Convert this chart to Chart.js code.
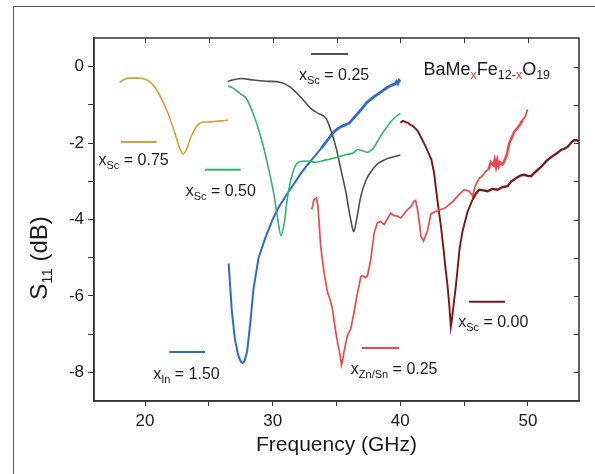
<!DOCTYPE html>
<html>
<head>
<meta charset="utf-8">
<script src="https://cdn.jsdelivr.net/npm/chart.js@4.4.1/dist/chart.umd.min.js"></script>
<style>
  html, body { margin: 0; padding: 0; background: #fff; }
  #wrap { position: relative; width: 595px; height: 474px; overflow: hidden; }
  #frame { position: absolute; left: 13px; top: 6px; width: 600px; height: 500px;
           border-left: 1px solid #555; border-top: 1px solid #555; }
  canvas { position: absolute; left: 0; top: 0; }
</style>
</head>
<body>
<div id="wrap">
  <div id="frame"></div>
  <canvas id="s11Chart" width="595" height="474"></canvas>
</div>
<script>
// x_Sc = 0.75
const sc075Freq = [18.0, 18.4, 18.8, 19.3, 19.8, 20.3, 20.8, 21.3, 21.8, 22.3, 22.7, 23.0, 23.3, 23.6, 24.1, 24.6, 25.0, 25.5, 26.0, 26.5];
const sc075S11  = [-0.41, -0.33, -0.30, -0.30, -0.31, -0.38, -0.55, -0.85, -1.22, -1.70, -2.12, -2.29, -2.12, -1.84, -1.54, -1.45, -1.45, -1.43, -1.42, -1.40];

// x_Sc = 0.50
const sc050Freq = [26.5, 27.0, 27.5, 27.9, 28.5, 29.2, 29.7, 30.1, 30.4, 30.65, 30.9, 31.15, 31.55, 32.0, 32.7, 33.4, 34.2, 35.1, 35.8, 36.3, 36.65, 37.0, 37.4, 37.9, 38.4, 38.9, 39.5, 40.0];
const sc050S11  = [-0.50, -0.58, -0.72, -0.82, -1.25, -2.00, -2.70, -3.35, -4.00, -4.42, -4.10, -3.45, -2.80, -2.50, -2.47, -2.50, -2.44, -2.37, -2.30, -2.26, -2.17, -2.20, -2.24, -2.13, -1.85, -1.60, -1.35, -1.22];

// x_Sc = 0.25
const sc025Freq = [26.5, 27.5, 28.5, 29.5, 30.6, 31.4, 32.2, 33.0, 33.6, 34.2, 34.55, 34.95, 35.35, 35.75, 36.0, 36.2, 36.35, 36.55, 36.9, 37.3, 37.7, 38.2, 38.9, 39.5, 40.0];
const sc025S11  = [-0.38, -0.31, -0.35, -0.38, -0.41, -0.54, -0.80, -1.10, -1.23, -1.36, -1.66, -2.10, -2.70, -3.31, -3.80, -4.15, -4.32, -4.05, -3.40, -2.98, -2.75, -2.55, -2.42, -2.36, -2.31];

// x_In = 1.50
const in150Freq = [26.55, 26.8, 27.05, 27.3, 27.5, 27.65, 27.8, 28.0, 28.25, 28.5, 28.9, 29.4, 30.0, 30.4, 31.15, 31.7, 32.2, 32.7, 33.25, 33.8, 34.3, 34.7, 35.1, 35.5, 36.0, 36.6, 37.0, 37.4, 37.9, 38.5, 38.9, 39.3, 39.6, 39.7, 39.8, 39.9, 40.0];
const in150S11  = [-5.15, -6.40, -7.15, -7.55, -7.72, -7.76, -7.70, -7.45, -6.70, -5.80, -5.00, -4.50, -4.00, -3.72, -3.32, -3.05, -2.80, -2.58, -2.36, -2.14, -1.92, -1.74, -1.62, -1.55, -1.48, -1.25, -1.10, -0.93, -0.80, -0.66, -0.56, -0.49, -0.45, -0.39, -0.44, -0.36, -0.40];

// x_Zn/Sn = 0.25
const znsnFreq = [33.06, 33.24, 33.43, 33.55, 33.76, 34.02, 34.29, 34.5, 34.68, 34.94, 35.12, 35.28, 35.39, 35.5, 35.59, 35.86, 36.12, 36.38, 36.6, 36.77, 36.9, 37.04, 37.25, 37.43, 37.69, 37.95, 38.2, 38.45, 38.73, 39.0, 39.25, 39.5, 39.78, 40.04, 40.3, 40.56, 40.8, 41.08, 41.2, 41.35, 41.5, 41.61, 41.82, 42.13, 42.39, 42.7, 43.18, 43.5, 43.83, 44.2, 44.49, 45.0, 45.4, 45.66, 45.9, 46.18, 46.45, 46.7, 46.9, 47.1, 47.3, 47.4, 47.5, 47.6, 47.7, 47.8, 48.0, 48.14, 48.35, 48.53, 48.75, 48.93, 49.2, 49.4, 49.58, 49.8, 49.97];
const znsnS11  = [-3.74, -3.48, -3.44, -3.65, -4.69, -5.38, -5.90, -6.10, -6.34, -6.94, -7.29, -7.55, -7.80, -7.65, -7.46, -7.03, -6.86, -6.42, -6.00, -5.73, -5.50, -5.47, -5.52, -5.47, -5.04, -4.35, -4.09, -4.05, -4.13, -3.98, -3.83, -3.90, -3.91, -3.96, -3.85, -3.74, -3.68, -3.52, -3.50, -3.74, -4.10, -4.43, -4.56, -4.30, -3.86, -3.80, -3.74, -3.70, -3.61, -3.50, -3.39, -3.22, -3.26, -3.38, -3.10, -2.92, -2.85, -2.74, -2.70, -2.50, -2.58, -2.44, -2.62, -2.45, -2.60, -2.50, -2.56, -2.48, -2.30, -2.01, -1.85, -1.70, -1.60, -1.50, -1.40, -1.30, -1.12];

// x_Sc = 0.00
const sc000Freq = [40.0, 40.2, 40.43, 40.6, 40.82, 41.0, 41.2, 41.4, 41.61, 42.0, 42.44, 42.65, 42.9, 43.18, 43.39, 43.55, 43.7, 43.85, 43.96, 44.05, 44.2, 44.35, 44.5, 44.65, 44.88, 45.27, 45.66, 45.9, 46.18, 46.5, 46.84, 47.2, 47.62, 48.0, 48.4, 48.7, 49.06, 49.4, 49.71, 50.0, 50.24, 50.5, 50.76, 51.1, 51.41, 51.7, 52.06, 52.3, 52.59, 52.85, 53.11, 53.4, 53.64, 53.85, 54.0];
const sc000S11  = [-1.47, -1.42, -1.45, -1.47, -1.53, -1.56, -1.62, -1.70, -1.84, -2.10, -2.44, -2.79, -3.48, -4.17, -4.78, -5.30, -5.73, -6.30, -6.81, -6.60, -6.16, -5.75, -5.25, -4.75, -4.30, -3.80, -3.48, -3.33, -3.22, -3.24, -3.26, -3.20, -3.22, -3.15, -3.13, -3.00, -2.92, -2.85, -2.83, -2.86, -2.87, -2.78, -2.70, -2.60, -2.48, -2.40, -2.31, -2.26, -2.18, -2.15, -2.10, -1.98, -1.92, -1.93, -1.96];

// short key segments next to each label: [x start, x end, y]
const keySc075 = [18.1, 20.9, -1.97];
const keySc050 = [24.7, 27.5, -2.70];
const keySc025 = [33.0, 35.9, 0.33];
const keyIn150 = [21.9, 24.7, -7.47];
const keyZnSn  = [37.0, 39.9, -7.36];
const keySc000 = [45.4, 48.2, -6.15];

const xTicks = [20, 30, 40, 50];
const yTicks = [0, -2, -4, -6, -8];

const FONT = "'Liberation Sans', Arial, sans-serif";
Chart.defaults.font.family = FONT;

function toPoints(xs, ys) {
  return xs.map((x, i) => ({ x: x, y: ys[i] }));
}

function curve(xs, ys, color, width, smooth, noisy) {
  const ds = {
    data: toPoints(xs, ys),
    borderColor: color,
    borderWidth: width,
    pointRadius: 0,
    fill: false,
    tension: smooth ? 0.4 : 0,
    cubicInterpolationMode: smooth ? "monotone" : "default",
  };
  // the measured traces get fuzzier (thicker) over part of the band
  if (noisy) {
    ds.segment = {
      borderWidth: c => (c.p0.parsed.x >= noisy[0] && c.p0.parsed.x <= noisy[1] ? noisy[2] : width),
    };
  }
  return ds;
}

function keyLine(k, color) {
  return {
    data: [{ x: k[0], y: k[2] }, { x: k[1], y: k[2] }],
    borderColor: color,
    borderWidth: 2,
    pointRadius: 0,
    fill: false,
  };
}

const GOLD = "#d6a033";
const GREEN = "#2fb56b";
const GRAY = "#4f4f4f";
const BLUE = "#2b6cc8";
const RED = "#f04848";
const DARKRED = "#7a1616";

// text labels, anchored in data units
const labels = [
  { x: 16.35, y: -2.58, parts: [["x", 16], ["Sc", 11, 4], [" = 0.75", 16]] },
  { x: 23.18, y: -3.39, parts: [["x", 16], ["Sc", 11, 4], [" = 0.50", 16]] },
  { x: 32.06, y: -0.36, parts: [["x", 16], ["Sc", 11, 4], [" = 0.25", 16]] },
  { x: 20.64, y: -8.18, parts: [["x", 16], ["In", 11, 4], [" = 1.50", 16]] },
  { x: 36.12, y: -8.05, parts: [["x", 16], ["Zn/Sn", 11, 4], [" = 0.25", 16]] },
  { x: 44.53, y: -6.82, parts: [["x", 16], ["Sc", 11, 4], [" = 0.00", 16]] },
  { x: 41.82, y: -0.23, parts: [["BaMe", 18], ["x", 12.5, 4, "#f03a3a"], ["Fe", 18], ["12-", 12.5, 4], ["x", 12.5, 4, "#f03a3a"], ["O", 18], ["19", 12.5, 4]] },
];

function drawParts(ctx, x, y, parts) {
  let cx = x;
  parts.forEach(p => {
    ctx.font = p[1] + "px " + FONT;
    ctx.fillStyle = p[3] || "#1a1a1a";
    ctx.fillText(p[0], cx, y + (p[2] || 0));
    cx += ctx.measureText(p[0]).width;
  });
}

const decorPlugin = {
  id: "decor",
  afterDraw(chart) {
    const ctx = chart.ctx;
    const a = chart.chartArea;
    const sx = chart.scales.x;
    const sy = chart.scales.y;
    ctx.save();
    ctx.strokeStyle = "#333";
    ctx.lineWidth = 1.5;
    ctx.strokeRect(a.left, a.top, a.right - a.left, a.bottom - a.top);
    // inward ticks on top and right
    ctx.lineWidth = 1;
    ctx.beginPath();
    for (let v = 20; v <= 50; v += 5) {
      const px = Math.round(sx.getPixelForValue(v)) + 0.5;
      ctx.moveTo(px, a.top);
      ctx.lineTo(px, a.top + 5);
    }
    for (let v = -8; v <= 0; v += 1) {
      const py = Math.round(sy.getPixelForValue(v)) + 0.5;
      ctx.moveTo(a.right, py);
      ctx.lineTo(a.right - 5, py);
    }
    ctx.stroke();

    ctx.textBaseline = "alphabetic";
    ctx.textAlign = "left";
    labels.forEach(l => {
      drawParts(ctx, sx.getPixelForValue(l.x), sy.getPixelForValue(l.y), l.parts);
    });

    // axis titles
    ctx.fillStyle = "#1a1a1a";
    ctx.font = "21px " + FONT;
    ctx.textAlign = "center";
    ctx.fillText("Frequency (GHz)", (a.left + a.right) / 2, 451);

    ctx.translate(47, 258);
    ctx.rotate(-Math.PI / 2);
    ctx.textAlign = "left";
    const t1 = "S", t2 = "11", t3 = " (dB)";
    ctx.font = "24px " + FONT;
    const w1 = ctx.measureText(t1).width, w3 = ctx.measureText(t3).width;
    ctx.font = "15px " + FONT;
    const w2 = ctx.measureText(t2).width;
    const cx = -(w1 + w2 + w3) / 2;
    drawParts(ctx, cx, 0, [[t1, 24], [t2, 15, 5], [t3, 24]]);
    ctx.restore();
  },
};

const ctx = document.getElementById("s11Chart");
const myChart = new Chart(ctx, {
  type: "line",
  data: {
    datasets: [
      curve(sc075Freq, sc075S11, GOLD, 1.6, true),
      curve(sc050Freq, sc050S11, GREEN, 1.6, true),
      curve(sc025Freq, sc025S11, GRAY, 1.6, true),
      curve(in150Freq, in150S11, BLUE, 2, false, [33.5, 40, 2.8]),
      curve(znsnFreq, znsnS11, RED, 1.7, false, [46.8, 49.4, 2.6]),
      curve(sc000Freq, sc000S11, DARKRED, 1.9, false, [45.5, 54, 2.3]),
      keyLine(keySc075, GOLD),
      keyLine(keySc050, GREEN),
      keyLine(keySc025, GRAY),
      keyLine(keyIn150, BLUE),
      keyLine(keyZnSn, RED),
      keyLine(keySc000, DARKRED),
    ],
  },
  options: {
    responsive: false,
    animation: false,
    devicePixelRatio: 1,
    layout: { padding: { top: 38, right: 16, left: 0, bottom: 0 } },
    plugins: { legend: { display: false }, tooltip: { enabled: false } },
    scales: {
      x: {
        type: "linear",
        min: 16,
        max: 54,
        afterFit: s => { s.height = 73; },
        ticks: {
          stepSize: 5,
          includeBounds: false,
          autoSkip: false,
          maxRotation: 0,
          padding: 5,
          color: "#1a1a1a",
          font: { size: 17 },
          callback: v => (xTicks.includes(v) ? v : ""),
        },
        grid: { drawOnChartArea: false, drawTicks: true, tickLength: 5, color: "#333" },
        border: { display: true, color: "#333", width: 1.5 },
      },
      y: {
        type: "linear",
        min: -8.75,
        max: 0.75,
        afterFit: s => { s.width = 94; },
        ticks: {
          stepSize: 1,
          includeBounds: false,
          autoSkip: false,
          padding: 4,
          color: "#1a1a1a",
          font: { size: 17 },
          callback: v => (yTicks.includes(v) ? v : ""),
        },
        grid: { drawOnChartArea: false, drawTicks: true, tickLength: 6, color: "#333" },
        border: { display: true, color: "#333", width: 1.5 },
      },
    },
  },
  plugins: [decorPlugin],
});
</script>
</body>
</html>
